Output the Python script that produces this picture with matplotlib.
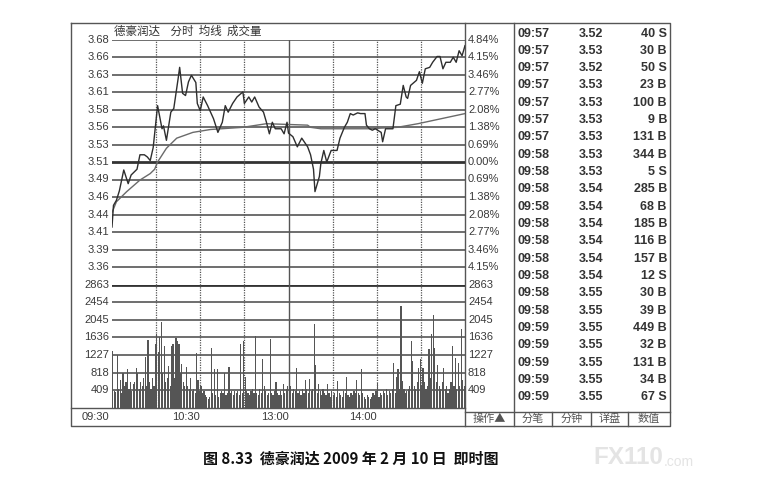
import matplotlib
matplotlib.use("Agg")
import matplotlib.pyplot as plt

# ---------------- data ----------------
prev_close = 3.51
price_labels_up = ['3.68', '3.66', '3.63', '3.61', '3.58', '3.56', '3.53', '3.51']
price_labels_dn = ['3.49', '3.46', '3.44', '3.41', '3.39', '3.36']
pct_labels_up = ['4.84%', '4.15%', '3.46%', '2.77%', '2.08%', '1.38%', '0.69%', '0.00%']
pct_labels_dn = ['0.69%', '1.38%', '2.08%', '2.77%', '3.46%', '4.15%']
vol_ticks = [2863, 2454, 2045, 1636, 1227, 818, 409]
time_labels = ['09:30', '10:30', '13:00', '14:00']
time_pos = [0, 60, 120, 180]

price_min = [0, 1, 3, 5, 8, 11, 13, 17, 19, 22, 24, 26, 28, 31, 34, 35, 37, 40, 42, 45, 46,
             48, 50, 52, 54, 57, 58, 60, 62, 65, 69, 72, 75, 77, 79, 82, 85, 89, 90, 93, 95,
             97, 100, 103, 105, 107, 109, 111, 115, 117, 119, 120, 123, 126, 129, 133, 135,
             137, 138, 141, 142, 144, 146, 149, 153, 155, 158, 160, 162, 164, 167, 169, 172,
             173, 175, 177, 179, 183, 184, 186, 191, 193, 196, 198, 200, 201, 203, 207, 209,
             211, 213, 216, 218, 221, 223, 225, 227, 230, 232, 234, 236, 238, 240]
price_val = [3.420, 3.450, 3.457, 3.470, 3.499, 3.480, 3.492, 3.500, 3.520, 3.520, 3.517,
             3.512, 3.530, 3.588, 3.556, 3.560, 3.540, 3.579, 3.584, 3.626, 3.641, 3.605,
             3.602, 3.621, 3.630, 3.620, 3.591, 3.581, 3.600, 3.588, 3.570, 3.551, 3.565,
             3.588, 3.579, 3.591, 3.600, 3.607, 3.591, 3.600, 3.593, 3.600, 3.586, 3.579,
             3.565, 3.549, 3.565, 3.556, 3.556, 3.549, 3.565, 3.550, 3.545, 3.531, 3.543,
             3.531, 3.520, 3.500, 3.469, 3.490, 3.508, 3.526, 3.510, 3.526, 3.526, 3.543,
             3.558, 3.565, 3.577, 3.575, 3.578, 3.577, 3.577, 3.561, 3.556, 3.554, 3.556,
             3.551, 3.538, 3.556, 3.556, 3.588, 3.590, 3.616, 3.600, 3.598, 3.616, 3.623,
             3.635, 3.619, 3.639, 3.641, 3.648, 3.656, 3.656, 3.639, 3.648, 3.648, 3.655,
             3.648, 3.664, 3.657, 3.671]

avg_min = [0, 3, 10, 19, 26, 29, 31, 37, 44, 55, 67, 89, 105, 119, 133, 135, 142, 174,
           194, 208, 224, 240]
avg_val = [3.440, 3.455, 3.469, 3.485, 3.494, 3.500, 3.510, 3.529, 3.543, 3.551, 3.555,
           3.558, 3.563, 3.562, 3.561, 3.558, 3.556, 3.556, 3.558, 3.563, 3.570, 3.577]

volumes = [
    1320, 400, 380, 1220, 450, 650, 350, 800, 500, 600,
    893, 450, 600, 400, 550, 600, 917, 800, 450, 600,
    500, 700, 1191, 500, 1575, 600, 450, 700, 500, 1480,
    1715, 1300, 1637, 2005, 800, 1441, 600, 700, 971, 500,
    1441, 1480, 700, 1614, 1559, 1480, 800, 1010, 600, 500,
    956, 500, 450, 697, 400, 450, 350, 1284, 650, 400,
    500, 350, 384, 300, 250, 200, 250, 1402, 350, 893,
    300, 893, 250, 350, 400, 350, 815, 300, 350, 956,
    350, 400, 300, 400, 350, 400, 300, 1480, 350, 1559,
    720, 400, 350, 300, 400, 450, 350, 1661, 350, 300,
    450, 350, 1128, 500, 400, 300, 350, 1598, 350, 300,
    400, 600, 350, 300, 400, 300, 560, 350, 450, 500,
    1168, 500, 350, 450, 400, 917, 350, 400, 300, 450,
    350, 658, 450, 350, 666, 400, 450, 1950, 987, 350,
    560, 400, 300, 450, 350, 300, 560, 350, 250, 400,
    300, 350, 250, 620, 350, 300, 250, 400, 350, 720,
    300, 250, 350, 300, 400, 350, 650, 350, 300, 909,
    350, 250, 200, 300, 250, 200, 250, 350, 300, 400,
    590, 250, 350, 300, 400, 350, 450, 300, 400, 350,
    450, 1050, 350, 720, 893, 450, 2366, 620, 450, 350,
    400, 450, 500, 1559, 1089, 500, 450, 600, 932, 1128,
    500, 932, 600, 450, 500, 1363, 700, 1715, 2146, 1402,
    600, 987, 500, 450, 600, 932, 450, 500, 350, 450,
    600, 1441, 500, 1168, 450, 1050, 500, 1833, 650, 500,
]

tick_time = ['09:57'] * 7 + ['09:58'] * 10 + ['09:59'] * 5
tick_price = ['3.52', '3.53', '3.52', '3.53', '3.53', '3.53', '3.53', '3.53', '3.53', '3.54',
              '3.54', '3.54', '3.54', '3.54', '3.54', '3.55', '3.55', '3.55', '3.55', '3.55',
              '3.55', '3.55']
tick_vol = ['40 S', '30 B', '50 S', '23 B', '100 B', '9 B', '131 B', '344 B', '5 S', '285 B',
            '68 B', '185 B', '116 B', '157 B', '12 S', '30 B', '39 B', '449 B', '32 B',
            '131 B', '34 B', '67 S']
buttons = ['操作▲', '分笔', '分钟', '详盘', '数值']
title_text = '德豪润达    分时  均线  成交量'
caption = '图 8.33  德豪润达 2009 年 2 月 10 日  即时图'

# ---------------- layout ----------------
W, H = 766, 478
fig = plt.figure(figsize=(W / 100, H / 100), dpi=100)
fig.patch.set_facecolor('white')
CJK = ['Noto Sans CJK SC', 'DejaVu Sans']
NUM = 'Liberation Sans'


def fax(x0, y0, x1, y1):
    return [x0 / W, 1 - y1 / H, (x1 - x0) / W, (y1 - y0) / H]


bg = fig.add_axes([0, 0, 1, 1])
bg.set_xlim(0, W)
bg.set_ylim(H, 0)
bg.axis('off')

FR = '#555555'
LW = 1.0
PL, PR = 112, 465
FL, FT, FRt, FB = 71, 23, 670, 426
TL = 514
# outer frame
bg.plot([FL, FRt, FRt, FL, FL], [FT, FT, FB, FB, FT], color=FR, lw=LW)
bg.plot([PR, PR], [FT, FB], color=FR, lw=LW)
bg.plot([TL, TL], [FT, FB], color=FR, lw=LW)
bg.plot([PR, FRt], [411.7, 411.7], color=FR, lw=LW)
for bx in [551.7, 590.7, 628]:
    bg.plot([bx, bx], [411.7, FB], color=FR, lw=LW)
bg.plot([FL, PR], [408, 408], color=FR, lw=LW)

# price panel
p_top, p_mid, p_bot = 39.5, 161.7, 284.5
step = (p_bot - p_top) / 14
ax = fig.add_axes(fax(PL, p_top, PR, p_bot))
pstep = prev_close * 0.0069
ax.set_xlim(0, 240)
ax.set_ylim(prev_close - 7 * pstep, prev_close + 7 * pstep)
ax.axis('off')
for k in range(-6, 8):
    yv = prev_close + k * pstep
    if k == 0:
        ax.axhline(yv, color='#333333', lw=2.0, zorder=1)
    else:
        ax.axhline(yv, color='#555555', lw=1.2, zorder=1)
for m in [30, 60, 90, 150, 180, 210]:
    ax.axvline(m, color='#555555', lw=0.9, ls=(0, (1, 1)), zorder=1)
ax.axvline(120, color='#555555', lw=1.0, zorder=1)
ax.plot(avg_min, avg_val, color='#6a6a6a', lw=1.0, zorder=2)
ax.plot(price_min, price_val, color='#2e2e2e', lw=1.0, zorder=3)

# volume panel
v_top, v_bot = 284.5, 408
vax = fig.add_axes(fax(PL, v_top, PR, v_bot))
vax.set_xlim(0, 240)
vax.set_ylim(0, vol_ticks[0])
vax.axis('off')
vax.axhline(vol_ticks[0], color='#333333', lw=2.0, zorder=1)
for t in vol_ticks[1:]:
    vax.axhline(t, color='#555555', lw=1.2, zorder=1)
for m in [30, 60, 90, 150, 180, 210]:
    vax.axvline(m, color='#555555', lw=0.9, ls=(0, (1, 1)), zorder=3)
vax.axvline(120, color='#555555', lw=1.0, zorder=3)
xs = [i + 0.5 for i in range(len(volumes))]
vax.bar(xs, volumes, width=0.8, color='#555555', linewidth=0, zorder=2)

# labels
LC = '#3a3a3a'
fs = 8
ylabs = price_labels_up + price_labels_dn
plabs = pct_labels_up + pct_labels_dn
for i in range(14):
    y = p_top + i * step
    bg.text(109, y, ylabs[i], ha='right', va='center', fontsize=fs, family=NUM, color=LC)
    bg.text(468, y, plabs[i], ha='left', va='center', fontsize=fs, family=NUM, color=LC)
vstep = (v_bot - v_top) / 7
for i, t in enumerate(vol_ticks):
    y = v_top + i * vstep
    bg.text(109, y, str(t), ha='right', va='center', fontsize=fs, family=NUM, color=LC)
    bg.text(468, y, str(t), ha='left', va='center', fontsize=fs, family=NUM, color=LC)
for lab, m in zip(time_labels, time_pos):
    x = PL + (PR - PL) * m / 240
    xr = x - 3 if m == 0 else x
    bg.text(xr, 417, lab, ha='right', va='center', fontsize=fs, family=NUM, color=LC)

bg.text(114, 31, title_text, ha='left', va='center', fontsize=8.3, family=CJK, color='#333333')

# tick table
for i in range(len(tick_time)):
    y = 33.5 + i * 17.33
    bg.text(517, y, tick_time[i], ha='left', va='center', fontsize=9, family=NUM,
            weight='bold', color='#333333')
    bg.text(591, y, tick_price[i], ha='center', va='center', fontsize=9, family=NUM,
            weight='bold', color='#333333')
    bg.text(667, y, tick_vol[i], ha='right', va='center', fontsize=9, family=NUM,
            weight='bold', color='#333333')

bcent = [(PR + TL) / 2, (TL + 551.7) / 2, (551.7 + 590.7) / 2, (590.7 + 628) / 2, (628 + FRt) / 2]
for b, cx in zip(buttons, bcent):
    bg.text(cx, 419, b, ha='center', va='center', fontsize=8, family=CJK, color='#555555')

bg.text(203, 459, caption, ha='left', va='center', fontsize=10.8, family=CJK,
        weight='bold', color='#111111')
bg.text(593, 458, 'FX110', ha='left', va='center', fontsize=17.5, family=NUM,
        weight='bold', color='#e4e4e4')
bg.text(664, 462, '.com', ha='left', va='center', fontsize=10, family=NUM, color='#e4e4e4')

fig.savefig('out.png', dpi=100, facecolor='white')
